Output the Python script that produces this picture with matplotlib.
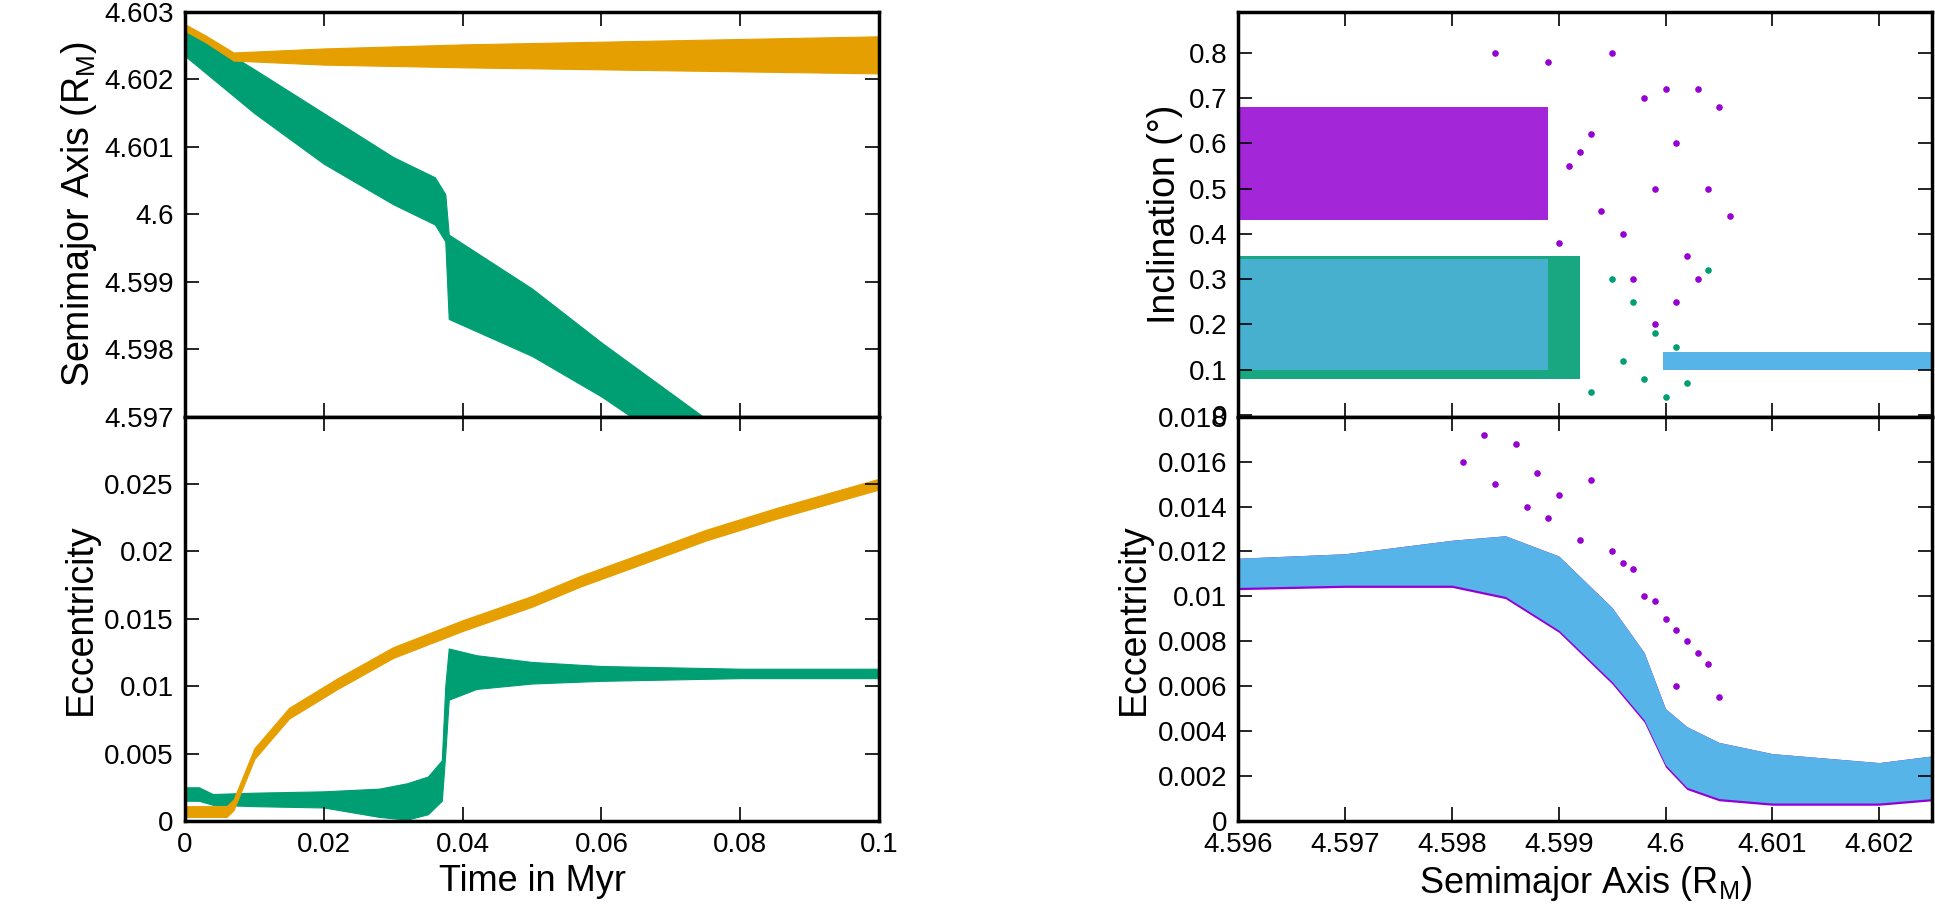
import matplotlib.pyplot as plt

plt.rcParams['font.family'] = ['Liberation Sans', 'DejaVu Sans']
plt.rcParams['font.size'] = 20

orange = '#E69F00'
green = '#009E73'
blue = '#56B4E9'
purple = '#9400D3'
ylab = dict(fontsize=27)

fig = plt.figure(figsize=(19.35, 9.24), dpi=100)

# Semimajor axis vs time (band = min/max of the oscillation)
t = [0, 0.003, 0.007, 0.02, 0.04, 0.06, 0.08, 0.1]
a_or_lo = [4.60272, 4.60255, 4.60228, 4.60222, 4.60218, 4.60215, 4.60212, 4.60209]
a_or_hi = [4.60282, 4.60265, 4.60240, 4.60246, 4.60252, 4.60256, 4.60260, 4.60264]
tg = [0, 0.01, 0.02, 0.03, 0.036, 0.0375, 0.038, 0.05, 0.06, 0.07, 0.076]
a_gr_lo = [4.60235, 4.60150, 4.60075, 4.60015, 4.59985, 4.59960, 4.59845, 4.59790, 4.59730, 4.59660, 4.59620]
a_gr_hi = [4.60278, 4.60215, 4.60150, 4.60085, 4.60055, 4.60030, 4.59970, 4.59890, 4.59810, 4.59735, 4.59690]

ax1 = fig.add_axes([0.0956, 0.549, 0.3587, 0.438])
ax1.fill_between(tg, a_gr_lo, a_gr_hi, color=green, lw=0.8)
ax1.fill_between(t, a_or_lo, a_or_hi, color=orange, lw=0.8)
ax1.set_xlim(0, 0.1)
ax1.set_ylim(4.597, 4.603)
ax1.set_yticks([4.597, 4.598, 4.599, 4.6, 4.601, 4.602, 4.603])
ax1.set_yticklabels(['4.597', '4.598', '4.599', '4.6', '4.601', '4.602', '4.603'])
ax1.set_xticklabels([])
ax1.set_ylabel('Semimajor Axis (R$_\\mathregular{M}$)', **ylab)

# Eccentricity vs time
te = [0, 0.006, 0.007, 0.01, 0.015, 0.022, 0.03, 0.04, 0.05, 0.057, 0.065, 0.075, 0.085, 0.1]
e_or = [0.0007, 0.0007, 0.0012, 0.0050, 0.0080, 0.0102, 0.0125, 0.0145, 0.0163, 0.0178, 0.0193, 0.0212, 0.0228, 0.0250]
tge = [0, 0.002, 0.004, 0.01, 0.02, 0.028, 0.032, 0.035, 0.037, 0.0375, 0.038, 0.042, 0.05, 0.06, 0.08, 0.1]
e_gr_lo = [0.0015, 0.0015, 0.0012, 0.0011, 0.0010, 0.0003, 0.0001, 0.0005, 0.0015, 0.0050, 0.0090, 0.0098, 0.0102, 0.0104, 0.0106, 0.0106]
e_gr_hi = [0.0025, 0.0025, 0.0020, 0.0021, 0.0022, 0.0024, 0.0028, 0.0033, 0.0045, 0.0100, 0.0128, 0.0123, 0.0118, 0.0115, 0.0113, 0.0113]

ax2 = fig.add_axes([0.0956, 0.1115, 0.3587, 0.4375])
ax2.fill_between(tge, e_gr_lo, e_gr_hi, color=green, lw=0.8)
ax2.fill_between(te, [v - 0.0004 for v in e_or], [v + 0.0004 for v in e_or], color=orange, lw=0.8)
ax2.set_xlim(0, 0.1)
ax2.set_ylim(0, 0.03)
ax2.set_yticks([0, 0.005, 0.01, 0.015, 0.02, 0.025])
ax2.set_yticklabels(['0', '0.005', '0.01', '0.015', '0.02', '0.025'])
ax2.set_xticks([0, 0.02, 0.04, 0.06, 0.08, 0.1])
ax2.set_xticklabels(['0', '0.02', '0.04', '0.06', '0.08', '0.1'])
ax2.set_ylabel('Eccentricity', **ylab)
ax2.set_xlabel('Time in Myr', fontsize=26, labelpad=4)

# Inclination vs semimajor axis (dense clouds as bands, sparse points typed)
ax3 = fig.add_axes([0.640, 0.549, 0.3587, 0.438])
ax3.fill_between([4.596, 4.5989], [0.43, 0.43], [0.68, 0.68], color=purple, alpha=0.85, lw=0)
ax3.fill_between([4.596, 4.5992], [0.08, 0.08], [0.35, 0.35], color=green, alpha=0.9, lw=0)
ax3.fill_between([4.596, 4.5989], [0.10, 0.10], [0.345, 0.345], color=blue, alpha=0.75, lw=0)
ax3.fill_between([4.59998, 4.6025], [0.10, 0.10], [0.14, 0.14], color=blue, lw=0)
pur_x = [4.5984, 4.5989, 4.5991, 4.5993, 4.5995, 4.5996, 4.5998, 4.5999, 4.6, 4.6001, 4.6002,
         4.6003, 4.6004, 4.6005, 4.6001, 4.5997, 4.5994, 4.5990, 4.6003, 4.6006, 4.5999, 4.5992]
pur_y = [0.80, 0.78, 0.55, 0.62, 0.80, 0.40, 0.70, 0.50, 0.72, 0.60, 0.35, 0.72, 0.50, 0.68,
         0.25, 0.30, 0.45, 0.38, 0.30, 0.44, 0.20, 0.58]
gr_x = [4.5995, 4.5996, 4.5997, 4.5998, 4.5999, 4.6, 4.6002, 4.6004, 4.5993, 4.6001]
gr_y = [0.30, 0.12, 0.25, 0.08, 0.18, 0.04, 0.07, 0.32, 0.05, 0.15]
ax3.scatter(pur_x, pur_y, s=14, color=purple)
ax3.scatter(gr_x, gr_y, s=14, color=green)
ax3.set_xlim(4.596, 4.6025)
ax3.set_ylim(-0.004, 0.89)
ax3.set_yticks([0, 0.1, 0.2, 0.3, 0.4, 0.5, 0.6, 0.7, 0.8])
ax3.set_yticklabels(['0', '0.1', '0.2', '0.3', '0.4', '0.5', '0.6', '0.7', '0.8'])
ax3.set_xticks([4.596, 4.597, 4.598, 4.599, 4.6, 4.601, 4.602])
ax3.set_xticklabels([])
ax3.set_ylabel('Inclination (°)', **ylab)

# Eccentricity vs semimajor axis
ab = [4.596, 4.597, 4.598, 4.5985, 4.599, 4.5995, 4.5998, 4.6, 4.6002, 4.6005, 4.601, 4.602, 4.6025]
eb_lo = [0.0104, 0.0105, 0.0105, 0.0100, 0.0085, 0.0062, 0.0045, 0.0025, 0.0015, 0.0010, 0.0008, 0.0008, 0.0010]
eb_hi = [0.0117, 0.0119, 0.0125, 0.0127, 0.0118, 0.0095, 0.0075, 0.0050, 0.0042, 0.0035, 0.0030, 0.0026, 0.0029]
ax4 = fig.add_axes([0.640, 0.1115, 0.3587, 0.4375])
ax4.fill_between(ab, [v - 0.0001 for v in eb_lo], eb_hi, color=purple, lw=0)
ax4.fill_between(ab, eb_lo, eb_hi, color=blue, lw=0)
pe_x = [4.5981, 4.5983, 4.5984, 4.5986, 4.5987, 4.5988, 4.5989, 4.599, 4.5992, 4.5993, 4.5995,
        4.5996, 4.5997, 4.5998, 4.5999, 4.6, 4.6001, 4.6002, 4.6003, 4.6004, 4.6005, 4.6001]
pe_y = [0.0160, 0.0172, 0.0150, 0.0168, 0.0140, 0.0155, 0.0135, 0.0145, 0.0125, 0.0152, 0.0120,
        0.0115, 0.0112, 0.0100, 0.0098, 0.0090, 0.0085, 0.0080, 0.0075, 0.0070, 0.0055, 0.0060]
ax4.scatter(pe_x, pe_y, s=14, color=purple)
ax4.set_xlim(4.596, 4.6025)
ax4.set_ylim(0, 0.018)
ax4.set_yticks([0, 0.002, 0.004, 0.006, 0.008, 0.01, 0.012, 0.014, 0.016, 0.018])
ax4.set_yticklabels(['0', '0.002', '0.004', '0.006', '0.008', '0.01', '0.012', '0.014', '0.016', '0.018'])
ax4.set_xticks([4.596, 4.597, 4.598, 4.599, 4.6, 4.601, 4.602])
ax4.set_xticklabels(['4.596', '4.597', '4.598', '4.599', '4.6', '4.601', '4.602'])
ax4.set_ylabel('Eccentricity', **ylab)
ax4.set_xlabel('Semimajor Axis (R$_\\mathregular{M}$)', fontsize=26, labelpad=4)

for ax in [ax1, ax2, ax3, ax4]:
    ax.tick_params(direction='in', top=True, right=True, length=10, width=1.2, pad=8)
    for s in ax.spines.values():
        s.set_linewidth(2.5)

plt.savefig('out.png')
